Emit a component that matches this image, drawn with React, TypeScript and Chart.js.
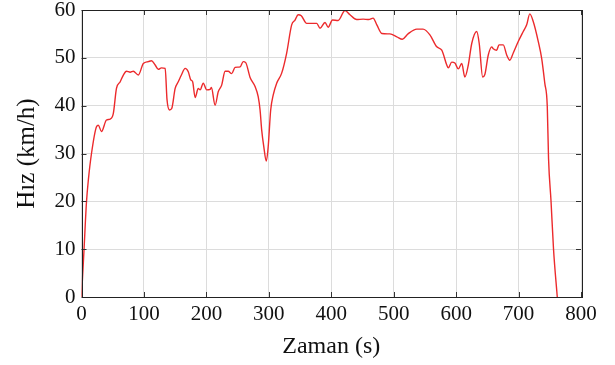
import React, { useEffect, useRef } from "react";
import { Chart, registerables } from "chart.js";

Chart.register(...registerables);

const timeSec = [
  0, 4, 8, 11, 16, 24, 27, 32, 40, 46, 51, 56, 62, 67, 72, 78, 83, 91, 99, 107, 112, 118, 123, 128, 134,
  137, 141, 144.5, 150, 155, 160, 166, 171, 175, 178, 182, 187, 190, 195, 200.5, 206, 208, 214, 219,
  224.5, 230, 235, 240.5, 246, 254, 259, 263, 270, 278, 283, 286, 288.6, 292, 296, 299, 303, 307,
  312.6, 320.6, 328.6, 336.6, 342, 347, 352, 360.7, 368.7, 376.7, 382, 390, 395, 402, 411, 422, 430,
  440.7, 451, 460, 467, 473, 481, 494, 505, 514, 523, 537, 547, 558, 569, 577, 585, 587.5, 593, 598,
  603.5, 609, 614, 619.5, 625, 633, 637, 642.5, 646, 651.5, 657, 659.5, 665, 668.6, 675.5, 681, 686,
  691.5, 699.5, 707.5, 713, 718, 723.5, 731.6, 737, 742, 746, 748, 752, 756, 762,
];
const speedKmh = [
  0, 9.8, 19.9, 24.5, 30, 35.6, 35.9, 34.6, 37, 37.2, 38.4, 43.6, 45, 46.4, 47.2, 47, 47.2, 46.4, 48.8,
  49.2, 49.4, 48.5, 47.6, 47.9, 47.8, 41.2, 39.1, 39.4, 43.6, 45, 46.4, 47.8, 47.1, 45.4, 45, 41.7,
  43.6, 43.3, 44.7, 43.3, 43.4, 43.8, 40.1, 42.9, 44.3, 47.2, 47.2, 46.7, 48, 48.1, 49.2, 49, 45.9, 44,
  41.9, 39.1, 34.9, 31.4, 28.4, 31.4, 39.1, 42.2, 44.7, 46.8, 51, 56.9, 57.9, 59, 58.8, 57.2, 57.2,
  57.2, 56.2, 57.4, 56.4, 57.9, 57.8, 59.9, 59, 58, 58.1, 58, 58.3, 56.9, 55.1, 55, 54.4, 53.9, 55, 56,
  56, 54.8, 52.3, 51.6, 48.5, 47.9, 49.1, 48.9, 47.7, 48.8, 46, 48.5, 53, 55.5, 53, 46, 46.5, 50.6,
  52.3, 51.9, 51.6, 52.7, 52.7, 50.6, 49.5, 51, 53.4, 55.5, 56.9, 59.2, 57.6, 53.4, 49.9, 44.7, 39.8,
  29, 20, 10, 0,
];
const xTicks = [0, 100, 200, 300, 400, 500, 600, 700, 800];
const yTicks = [0, 10, 20, 30, 40, 50, 60];
const xTitle = "Zaman (s)";
const yTitle = "Hız (km/h)";

const FONT = "'Liberation Serif', 'Times New Roman', serif";

const framePlugin = {
  id: "frame",
  afterDatasetsDraw(chart: any) {
    const { ctx, chartArea, scales } = chart;
    const { left, right, top, bottom } = chartArea;
    ctx.save();
    ctx.strokeStyle = "#333";
    ctx.lineWidth = 1;
    const L = 5;
    ctx.beginPath();
    xTicks.forEach((v) => {
      const x = Math.round(scales.x.getPixelForValue(v)) + 0.5;
      ctx.moveTo(x, top);
      ctx.lineTo(x, top + L);
      ctx.moveTo(x, bottom);
      ctx.lineTo(x, bottom - L);
    });
    yTicks.forEach((v) => {
      const y = Math.round(scales.y.getPixelForValue(v)) + 0.5;
      ctx.moveTo(left, y);
      ctx.lineTo(left + L, y);
      ctx.moveTo(right, y);
      ctx.lineTo(right - L, y);
    });
    ctx.stroke();
    ctx.strokeStyle = "#222";
    ctx.strokeRect(Math.round(left) + 0.5, Math.round(top) + 0.5, Math.round(right - left), Math.round(bottom - top));
    ctx.restore();
  },
};

export default function App() {
  const ref = useRef<HTMLCanvasElement>(null);
  useEffect(() => {
    document.body.style.margin = "0";
    const chart = new Chart(ref.current!, {
      type: "line",
      data: {
        datasets: [
          {
            data: timeSec.map((t, i) => ({ x: t, y: speedKmh[i] })),
            borderColor: "#ec2a2c",
            borderWidth: 1.4,
            pointRadius: 0,
            tension: 0.35,
            cubicInterpolationMode: "monotone",
            fill: false,
          },
        ],
      },
      options: {
        animation: false,
        responsive: false,
        maintainAspectRatio: false,
        layout: { padding: { top: 10, right: 34, left: 0, bottom: 0 } },
        plugins: { legend: { display: false }, tooltip: { enabled: false } },
        scales: {
          x: {
            type: "linear",
            min: 0,
            max: 800,
            afterBuildTicks: (s: any) => {
              s.ticks = xTicks.map((v) => ({ value: v }));
            },
            afterFit: (s: any) => {
              s.height = 68;
              s.paddingLeft = 0;
              s.paddingRight = 0;
            },
            grid: { color: "#dcdcdc", drawTicks: false },
            border: { display: false },
            ticks: { color: "#111", font: { family: FONT, size: 21 }, padding: 5, maxRotation: 0 },
            title: { display: true, text: xTitle, color: "#111", font: { family: FONT, size: 24 }, padding: { top: 0, bottom: 4 } },
          },
          y: {
            type: "linear",
            min: 0,
            max: 60,
            afterBuildTicks: (s: any) => {
              s.ticks = yTicks.map((v) => ({ value: v }));
            },
            afterFit: (s: any) => {
              s.width = 81.5;
              s.paddingTop = 0;
              s.paddingBottom = 0;
            },
            grid: { color: "#dcdcdc", drawTicks: false },
            border: { display: false },
            ticks: { color: "#111", font: { family: FONT, size: 21 }, padding: 6 },
            title: { display: true, text: yTitle, color: "#111", font: { family: FONT, size: 25 }, padding: { top: 12, bottom: 0 } },
          },
        },
      },
      plugins: [framePlugin],
    });
    return () => chart.destroy();
  }, []);
  return (
    <div style={{ position: "absolute", left: 0, top: 0, width: 615, height: 365, background: "#fff" }}>
      <canvas ref={ref} width={615} height={365} style={{ width: 615, height: 365 }} />
    </div>
  );
}
